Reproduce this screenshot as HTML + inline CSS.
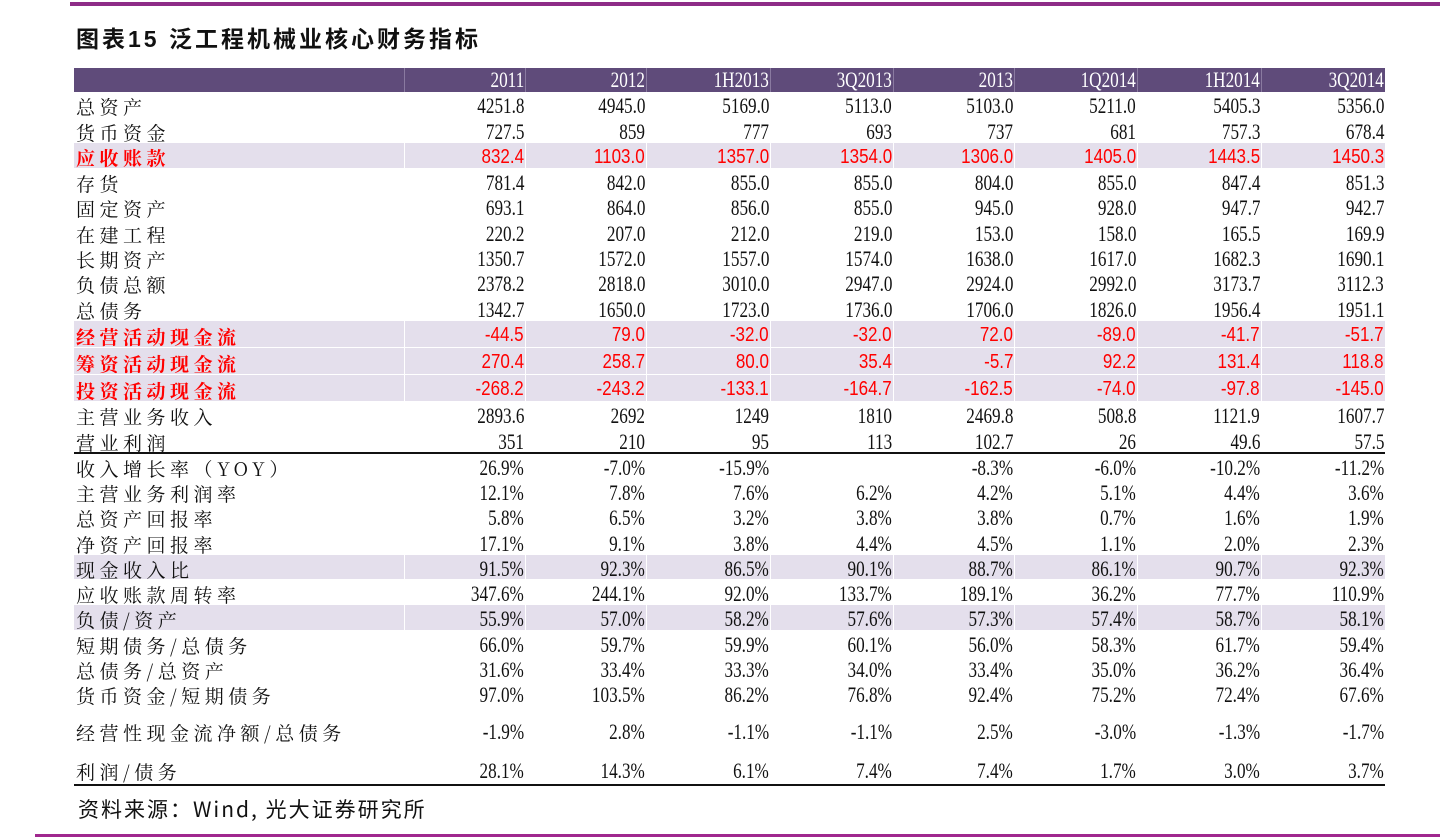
<!DOCTYPE html>
<html><head><meta charset="utf-8">
<style>
body{margin:0;width:1440px;height:839px;background:#fff;position:relative;overflow:hidden;font-family:"Liberation Serif","Noto Serif CJK SC",serif}
.abs{position:absolute}
.lbl{position:absolute;left:76px;font-family:"Noto Serif CJK SC","Liberation Serif",serif;font-size:19px;letter-spacing:4.5px;white-space:nowrap;color:#111;padding-top:2px}
.num{position:absolute;white-space:nowrap;font-size:22px;color:#111;transform:scaleX(0.78);transform-origin:right center;text-align:right;padding-top:1px}
.red{color:#f00}
.redl{font-weight:bold;color:#f00}
.redn{font-family:"Liberation Sans",sans-serif;font-size:20px;transform:scaleX(0.85)}
</style></head><body>
<div class="abs" style="left:70px;top:2px;width:1370px;height:4px;background:#8e2c87"></div>
<div class="abs" style="left:76px;top:20px;font-family:'Liberation Sans','Noto Sans CJK SC',sans-serif;font-weight:bold;font-size:23px;letter-spacing:3px;color:#111">图表15 泛工程机械业核心财务指标</div>
<div class="abs" style="left:74px;top:68px;width:1311px;height:24px;background:#5f4b7a"></div>
<div id="tbl"></div>
<div class="abs" style="left:74px;top:452px;width:1311px;height:2px;background:#111"></div>
<div class="abs" style="left:74px;top:784px;width:1311px;height:2px;background:#111"></div>
<div class="abs" style="left:78px;top:794px;font-family:'Noto Sans CJK SC',sans-serif;font-size:21px;letter-spacing:2px;color:#111">资料来源：Wind, 光大证券研究所</div>
<div class="abs" style="left:35px;top:834px;width:1405px;height:3px;background:#a0288e"></div>
<script>
const periods=["2011","2012","1H2013","3Q2013","2013","1Q2014","1H2014","3Q2014"];
const labels=["总资产","货币资金","应收账款","存货","固定资产","在建工程","长期资产","负债总额","总债务","经营活动现金流","筹资活动现金流","投资活动现金流","主营业务收入","营业利润","收入增长率（YOY）","主营业务利润率","总资产回报率","净资产回报率","现金收入比","应收账款周转率","负债/资产","短期债务/总债务","总债务/总资产","货币资金/短期债务","经营性现金流净额/总债务","利润/债务"];
const values=[
["4251.8","4945.0","5169.0","5113.0","5103.0","5211.0","5405.3","5356.0"],
["727.5","859","777","693","737","681","757.3","678.4"],
["832.4","1103.0","1357.0","1354.0","1306.0","1405.0","1443.5","1450.3"],
["781.4","842.0","855.0","855.0","804.0","855.0","847.4","851.3"],
["693.1","864.0","856.0","855.0","945.0","928.0","947.7","942.7"],
["220.2","207.0","212.0","219.0","153.0","158.0","165.5","169.9"],
["1350.7","1572.0","1557.0","1574.0","1638.0","1617.0","1682.3","1690.1"],
["2378.2","2818.0","3010.0","2947.0","2924.0","2992.0","3173.7","3112.3"],
["1342.7","1650.0","1723.0","1736.0","1706.0","1826.0","1956.4","1951.1"],
["-44.5","79.0","-32.0","-32.0","72.0","-89.0","-41.7","-51.7"],
["270.4","258.7","80.0","35.4","-5.7","92.2","131.4","118.8"],
["-268.2","-243.2","-133.1","-164.7","-162.5","-74.0","-97.8","-145.0"],
["2893.6","2692","1249","1810","2469.8","508.8","1121.9","1607.7"],
["351","210","95","113","102.7","26","49.6","57.5"],
["26.9%","-7.0%","-15.9%","","-8.3%","-6.0%","-10.2%","-11.2%"],
["12.1%","7.8%","7.6%","6.2%","4.2%","5.1%","4.4%","3.6%"],
["5.8%","6.5%","3.2%","3.8%","3.8%","0.7%","1.6%","1.9%"],
["17.1%","9.1%","3.8%","4.4%","4.5%","1.1%","2.0%","2.3%"],
["91.5%","92.3%","86.5%","90.1%","88.7%","86.1%","90.7%","92.3%"],
["347.6%","244.1%","92.0%","133.7%","189.1%","36.2%","77.7%","110.9%"],
["55.9%","57.0%","58.2%","57.6%","57.3%","57.4%","58.7%","58.1%"],
["66.0%","59.7%","59.9%","60.1%","56.0%","58.3%","61.7%","59.4%"],
["31.6%","33.4%","33.3%","34.0%","33.4%","35.0%","36.2%","36.4%"],
["97.0%","103.5%","86.2%","76.8%","92.4%","75.2%","72.4%","67.6%"],
["-1.9%","2.8%","-1.1%","-1.1%","2.5%","-3.0%","-1.3%","-1.7%"],
["28.1%","14.3%","6.1%","7.4%","7.4%","1.7%","3.0%","3.7%"]];
const rowTops=[92,118,143,169,194,220,245,270,296,321,348,375,402,427,454,479,504,530,555,580,605,631,656,681,706,755,785];
const colRights=[525,646,770,893,1014,1137,1261,1385];
const shaded=[2,9,10,11,18,20];
const redRows=[2,9,10,11];
const tbl=document.getElementById('tbl');
periods.forEach((p,i)=>{
  const d=document.createElement('div');
  
  
  d.className='num';
  d.style.cssText+='color:#fff;top:67px;height:24px;line-height:24px;right:'+(1440-colRights[i]+1)+'px;';
  d.textContent=p;
  tbl.appendChild(d);
  const s=document.createElement('div');
  
  
  s.className='abs';
  s.style.cssText='top:68px;height:24px;width:1px;background:#8a7aa0;left:'+(i==0?404:colRights[i-1])+'px';
  tbl.appendChild(s);
});
labels.forEach((lab,r)=>{
  const top=rowTops[r],h=rowTops[r+1]-top;
  const red=redRows.includes(r);
  if(shaded.includes(r)){
    const bg=document.createElement('div');
    
    
    bg.className='abs';
    bg.style.cssText='left:74px;width:1311px;top:'+top+'px;height:'+(h-1)+'px;background:#e4dfec';
    tbl.appendChild(bg);
    [404].concat(colRights.slice(0,7)).forEach(x=>{
      const s=document.createElement('div');
      
      
      s.className='abs';
      s.style.cssText='width:1px;background:#fff;left:'+x+'px;top:'+top+'px;height:'+h+'px';
      tbl.appendChild(s);
    });
  }
  const l=document.createElement('div');
  
  
  l.className='lbl'+(red?' redl':'');
  l.style.cssText+='top:'+top+'px;height:'+h+'px;line-height:'+h+'px;';
  l.textContent=lab;
  tbl.appendChild(l);
  values[r].forEach((v,i)=>{
    const c=document.createElement('div');
    
    
    c.className='num'+(red?' red redn':'');
    c.style.cssText+='top:'+top+'px;height:'+h+'px;line-height:'+h+'px;right:'+(1440-colRights[i]+1)+'px;';
    c.textContent=v;
    tbl.appendChild(c);
  });
});
</script>
</body></html>
